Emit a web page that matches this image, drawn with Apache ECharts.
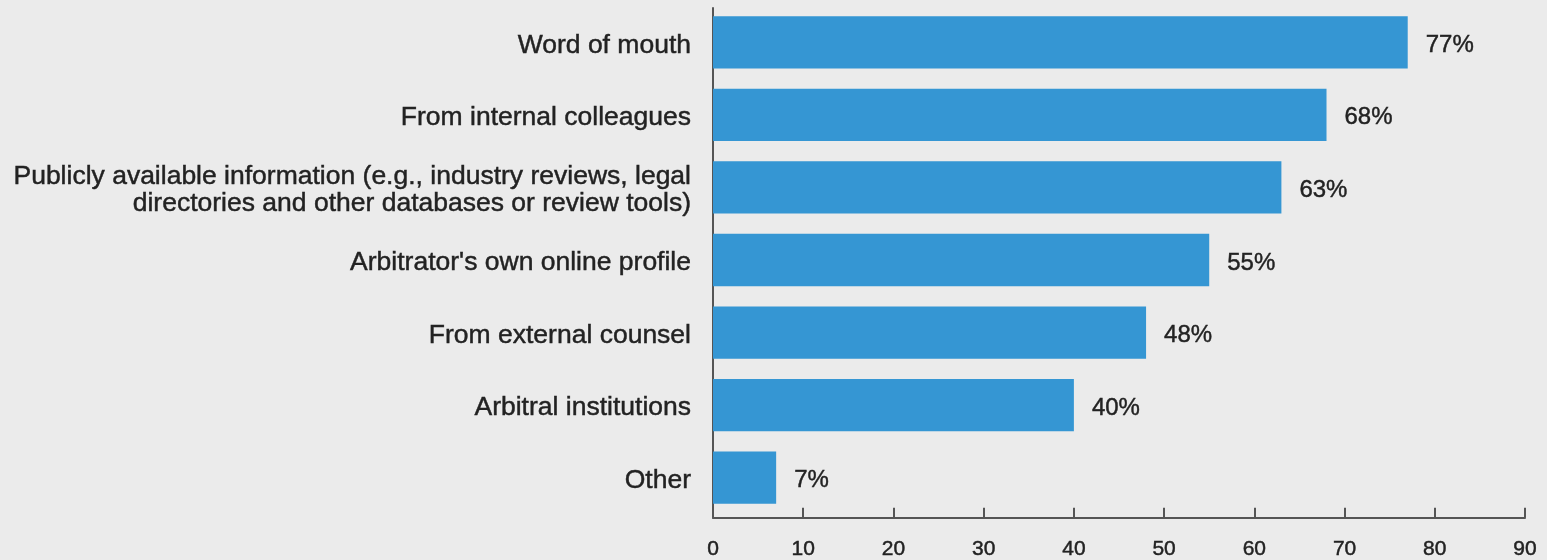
<!DOCTYPE html>
<html>
<head>
<meta charset="utf-8">
<script src="https://cdn.jsdelivr.net/npm/echarts@6/dist/echarts.min.js"></script>
<style>
  html, body { margin: 0; padding: 0; background: #ebebeb; }
  #chart { width: 1547px; height: 560px; }
</style>
</head>
<body>
<div id="chart"></div>
<script>
// Sources used to find arbitrators (share of respondents, %)
const categories = [
  'Word of mouth',
  'From internal colleagues',
  'Publicly available information (e.g., industry reviews, legal\ndirectories and other databases or review tools)',
  "Arbitrator's own online profile",
  'From external counsel',
  'Arbitral institutions',
  'Other'
];
const values = [77, 68, 63, 55, 48, 40, 7];
const axisMin = 0;
const axisMax = 90;
const axisStep = 10;

const chart = echarts.init(document.getElementById('chart'), null, { renderer: 'canvas' });
const axisColor = '#555555';
const textColor = '#222222';
const fontFamily = '"Liberation Sans", Arial, Helvetica, sans-serif';
// a thin outline in the text colour gives the labels a medium weight
const medium = { textBorderColor: textColor, textBorderWidth: 0.45 };

chart.setOption({
  backgroundColor: '#ebebeb',
  animation: false,
  grid: [
    // bars and category labels
    { left: 713, right: 22, top: 6, bottom: 46, containLabel: false },
    // axis frame: left line and the bottom scale
    { left: 713, right: 22, top: 8, bottom: 41, containLabel: false }
  ],
  xAxis: [
    { gridIndex: 0, type: 'value', min: axisMin, max: axisMax, show: false },
    {
      gridIndex: 1,
      type: 'value',
      min: axisMin,
      max: axisMax,
      interval: axisStep,
      axisLine: { show: true, lineStyle: { color: axisColor, width: 2 } },
      axisTick: { show: true, inside: true, length: 10, lineStyle: { color: axisColor, width: 2 } },
      splitLine: { show: false },
      axisLabel: Object.assign({ color: textColor, fontSize: 21, fontFamily: fontFamily, margin: 21 }, medium)
    }
  ],
  yAxis: [
    {
      gridIndex: 0,
      type: 'category',
      data: categories,
      inverse: true,
      axisLine: { show: false },
      axisTick: { show: false },
      axisLabel: Object.assign({
        color: textColor, fontSize: 26.5, fontFamily: fontFamily,
        margin: 22, align: 'right',
        // each line sits a little below the band centre
        formatter: function (v) {
          return v.split('\n').map(function (s) { return '{t|' + s + '}'; }).join('\n');
        },
        rich: {
          t: Object.assign({
            color: textColor, fontSize: 26.5, fontFamily: fontFamily,
            lineHeight: 27, padding: [6, 0, 0, 0]
          }, medium)
        }
      }, medium)
    },
    {
      gridIndex: 1,
      type: 'value',
      min: 0,
      max: 1,
      axisLine: { show: true, lineStyle: { color: axisColor, width: 2 } },
      axisTick: { show: false },
      axisLabel: { show: false },
      splitLine: { show: false }
    }
  ],
  series: [{
    type: 'bar',
    xAxisIndex: 0,
    yAxisIndex: 0,
    data: values,
    barCategoryGap: '28%',
    itemStyle: { color: '#3596d3' },
    label: Object.assign({
      show: true,
      position: 'right',
      distance: 18,
      offset: [0, 3],
      formatter: '{c}%',
      color: textColor,
      fontSize: 24,
      fontFamily: fontFamily
    }, medium)
  }]
});
</script>
</body>
</html>
